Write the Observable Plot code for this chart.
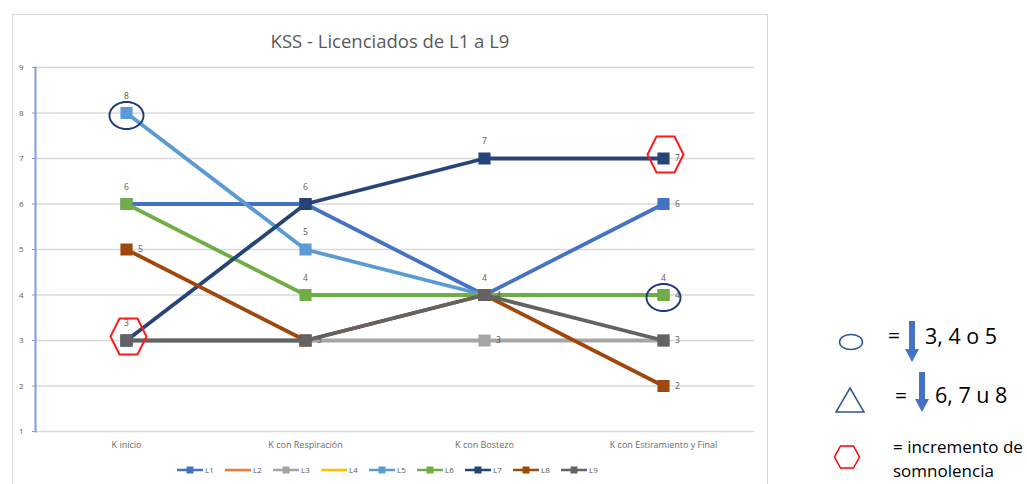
<!DOCTYPE html>
<html>
<head>
<meta charset="utf-8">
<script src="https://cdn.jsdelivr.net/npm/d3@7"></script>
<script src="https://cdn.jsdelivr.net/npm/@observablehq/plot@0.6"></script>
<style>
  html, body { margin: 0; padding: 0; background: #fff; }
  #wrap { position: relative; width: 1027px; height: 484px; overflow: hidden; font-family: "Open Sans", sans-serif; }
  #chart { position: absolute; left: 0; top: 0; }
  #frame { position: absolute; left: 12px; top: 14px; width: 756px; height: 480px; border: 1px solid #d9d9d9; border-bottom: none; box-sizing: border-box; pointer-events: none; }
  #title { position: absolute; left: 12px; width: 756px; top: 28px; text-align: center; font-size: 18.5px; color: #595959; font-family: "Open Sans", sans-serif; }
  #overlay { position: absolute; left: 0; top: 0; pointer-events: none; }
</style>
</head>
<body>
<div id="wrap">
  <div id="chart"></div>
  <div id="frame"></div>
  <div id="title">KSS - Licenciados de L1 a L9</div>
  <svg id="overlay" width="1027" height="484"></svg>
</div>
<script>
// ---------- data ----------
const categories = ["K inicio", "K con Respiración", "K con Bostezo", "K con Estiramiento y Final"];
const seriesNames = ["L1", "L2", "L3", "L4", "L5", "L6", "L7", "L8", "L9"];
const seriesColors = ["#4472C4", "#ED7D31", "#A5A5A5", "#FFC000", "#5B9BD5", "#70AD47", "#264478", "#9E480E", "#636363"];
const L1 = [6, 6, 4, 6];
const L2 = [];
const L3 = [3, 3, 3, 3];
const L4 = [];
const L5 = [8, 5, 4, 4];
const L6 = [6, 4, 4, 4];
const L7 = [3, 6, 7, 7];
const L8 = [5, 3, 4, 2];
const L9 = [3, 3, 4, 3];
const yTicks = [1, 2, 3, 4, 5, 6, 7, 8, 9];
// data labels shown in the picture: [series, category index]
const labelsAbove = [["L5", 0], ["L6", 0], ["L7", 0], ["L7", 1], ["L5", 1], ["L6", 1], ["L7", 2], ["L5", 2], ["L6", 3]];
const labelsRight = [["L8", 0], ["L9", 1], ["L3", 2], ["L9", 2], ["L7", 3], ["L1", 3], ["L6", 3], ["L9", 3], ["L8", 3]];
// hand-drawn annotations
const circled = [["L5", 0], ["L6", 3]];
const hexed = [["L7", 0], ["L7", 3]];
const keyTexts = ["3, 4 o 5", "6, 7 u 8", "= incremento de", "somnolencia"];

// ---------- build ----------
const seriesValues = [L1, L2, L3, L4, L5, L6, L7, L8, L9];
const rows = [];
seriesNames.forEach((s, i) => seriesValues[i].forEach((v, j) => rows.push({series: s, cat: categories[j], value: v})));
const find = ([s, j]) => rows.find(r => r.series === s && r.cat === categories[j]);
const colorOf = s => seriesColors[seriesNames.indexOf(s)];

function ellipseSymbol(rx, ry) {
  return {draw(ctx) {
    const n = 60;
    for (let k = 0; k <= n; k++) {
      const a = 2 * Math.PI * k / n;
      const px = rx * Math.cos(a), py = ry * Math.sin(a);
      if (k === 0) ctx.moveTo(px, py); else ctx.lineTo(px, py);
    }
    ctx.closePath();
  }};
}
function hexSymbol(rx, ry) {
  return {draw(ctx) {
    ctx.moveTo(rx, 0); ctx.lineTo(rx / 2, ry); ctx.lineTo(-rx / 2, ry);
    ctx.lineTo(-rx, 0); ctx.lineTo(-rx / 2, -ry); ctx.lineTo(rx / 2, -ry); ctx.closePath();
  }};
}

const marks = [
  Plot.gridY(yTicks, {stroke: "#d9d9d9", strokeOpacity: 1, strokeWidth: 1.5}),
  Plot.frame({anchor: "left", stroke: "#7f9ddb", strokeWidth: 2}),
  Plot.axisY(yTicks, {tickSize: 3, tickPadding: 9, fontSize: 8, stroke: "#7f9ddb", fill: "#595959", label: null}),
  Plot.axisX({tickSize: 0, tickPadding: 10, fontSize: 9, fill: "#6a6a6a", label: null})
];
seriesNames.forEach(s => {
  const d = rows.filter(r => r.series === s);
  if (!d.length) return;
  marks.push(Plot.line(d, {x: "cat", y: "value", stroke: colorOf(s), strokeWidth: 3.8}));
  marks.push(Plot.dot(d, {x: "cat", y: "value", symbol: "square", r: 6, fill: colorOf(s), stroke: colorOf(s)}));
});
marks.push(Plot.text(labelsAbove.map(find), {x: "cat", y: "value", text: d => String(d.value), dy: -17, fontSize: 8.5, fill: "#595959"}));
marks.push(Plot.text(labelsRight.map(find), {x: "cat", y: "value", text: d => String(d.value), dx: 14, fontSize: 8.5, fill: "#595959"}));
marks.push(Plot.dot(circled.map(find), {x: "cat", y: "value", symbol: ellipseSymbol(17, 13.5), dy: 2.5, fill: "none", stroke: "#203a78", strokeWidth: 2}));
marks.push(Plot.dot(hexed.map(find), {x: "cat", y: "value", symbol: hexSymbol(18, 18), dx: 2, dy: -4, fill: "none", stroke: "#ff1a1a", strokeWidth: 2}));

const chart = Plot.plot({
  width: 1027,
  height: 484,
  marginLeft: 35,
  marginRight: 273,
  marginTop: 67,
  marginBottom: 53,
  style: {background: "transparent", fontFamily: "'Open Sans', sans-serif", overflow: "visible"},
  x: {type: "point", domain: categories, padding: 0.5},
  y: {domain: [1, 9]},
  marks
});
document.getElementById("chart").appendChild(chart);

// ---------- bottom legend ----------
const ov = d3.select("#overlay");
const lg = ov.append("g").attr("transform", "translate(177,470)");
seriesNames.forEach((s, i) => {
  const g = lg.append("g").attr("transform", `translate(${i * 48},0)`);
  g.append("line").attr("x1", 0).attr("x2", 26).attr("y1", 0).attr("y2", 0).attr("stroke", colorOf(s)).attr("stroke-width", 2.5);
  if (seriesValues[i].length) g.append("rect").attr("x", 9.5).attr("y", -3.5).attr("width", 7).attr("height", 7).attr("fill", colorOf(s));
  g.append("text").attr("x", 28).attr("y", 3).attr("font-size", 8).attr("fill", "#595959").attr("font-family", "Open Sans").text(s);
});

// ---------- right key ----------
const key = ov.append("g");
const arrow = (x, y0, y1) => {
  key.append("rect").attr("x", x - 3).attr("y", y0).attr("width", 6).attr("height", y1 - y0 - 12).attr("fill", "#4472C4");
  key.append("path").attr("d", `M${x - 7},${y1 - 13}L${x + 7},${y1 - 13}L${x},${y1}Z`).attr("fill", "#4472C4");
};
key.append("ellipse").attr("cx", 851).attr("cy", 342).attr("rx", 11.5).attr("ry", 7.5).attr("fill", "none").attr("stroke", "#2F5597").attr("stroke-width", 1.5);
key.append("text").attr("x", 888).attr("y", 343).attr("font-size", 21).attr("fill", "#000").attr("font-family", "Open Sans").text("=");
arrow(912, 321, 362);
key.append("text").attr("x", 925).attr("y", 344).attr("font-size", 21.5).attr("fill", "#000").attr("font-family", "Open Sans").text(keyTexts[0]);

key.append("path").attr("d", "M850,388L864,412L836,412Z").attr("fill", "none").attr("stroke", "#2F5597").attr("stroke-width", 1.5);
key.append("text").attr("x", 895).attr("y", 403).attr("font-size", 21).attr("fill", "#000").attr("font-family", "Open Sans").text("=");
arrow(922, 372, 412);
key.append("text").attr("x", 935).attr("y", 403).attr("font-size", 21.5).attr("fill", "#000").attr("font-family", "Open Sans").text(keyTexts[1]);

key.append("path").attr("d", "M859.5,457L853.5,468L840.5,468L834.5,457L840.5,446L853.5,446Z").attr("fill", "none").attr("stroke", "#ff0000").attr("stroke-width", 1.5);
key.append("text").attr("x", 893).attr("y", 453).attr("font-size", 17).attr("fill", "#000").attr("font-family", "Open Sans").text(keyTexts[2]);
key.append("text").attr("x", 893).attr("y", 477).attr("font-size", 17).attr("fill", "#000").attr("font-family", "Open Sans").text(keyTexts[3]);
</script>
</body>
</html>
